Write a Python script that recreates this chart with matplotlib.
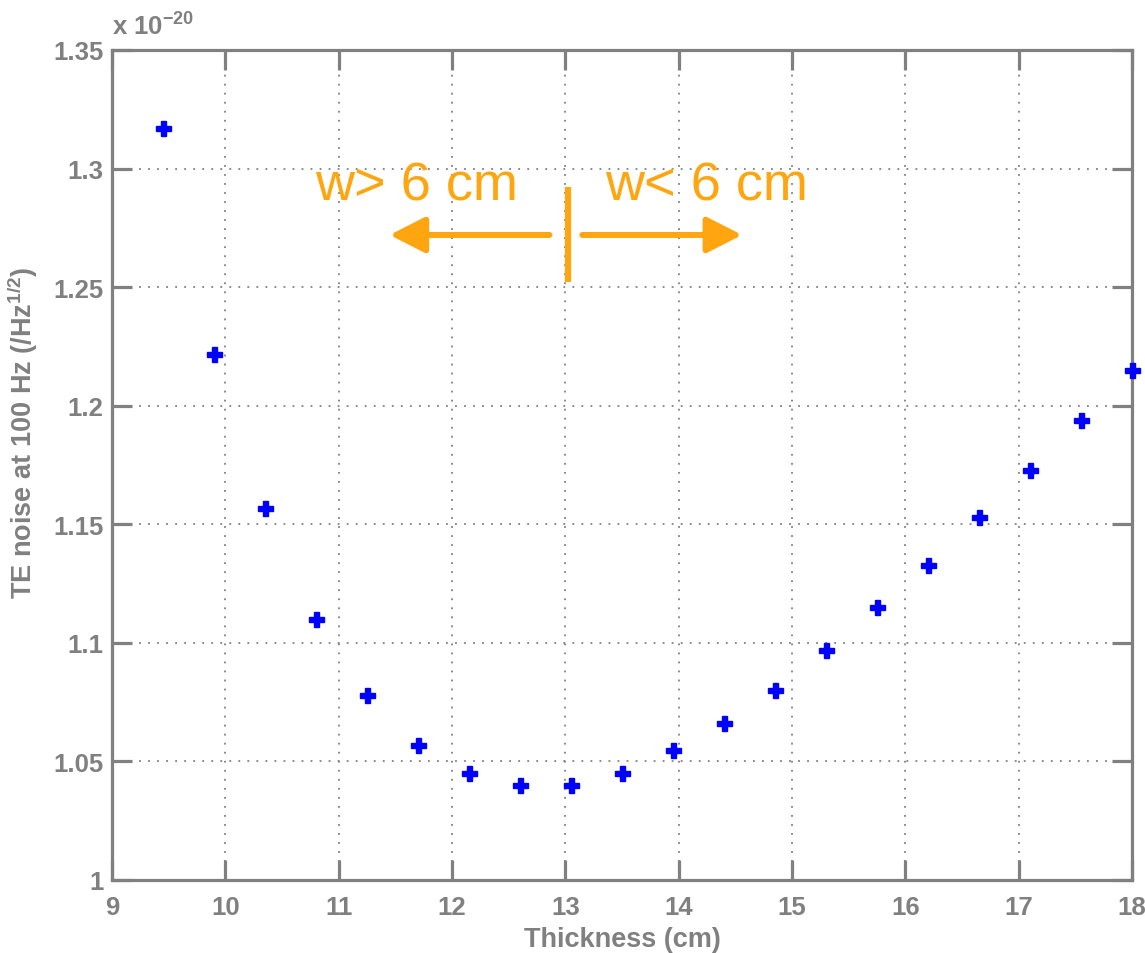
import matplotlib
matplotlib.use("Agg")
import matplotlib.pyplot as plt
import numpy as np

# ---- data (noise in units of 1e-20 /sqrt(Hz)) ----
thickness_cm = [9.45, 9.90, 10.35, 10.80, 11.25, 11.70, 12.15, 12.60, 13.05, 13.50,
                13.95, 14.40, 14.85, 15.30, 15.75, 16.20, 16.65, 17.10, 17.55, 18.00]
te_noise = [1.317, 1.222, 1.157, 1.110, 1.078, 1.057, 1.045, 1.040, 1.040, 1.045,
            1.055, 1.066, 1.080, 1.097, 1.115, 1.133, 1.153, 1.173, 1.194, 1.215]
x_ticks = [9, 10, 11, 12, 13, 14, 15, 16, 17, 18]
y_ticks = [1.0, 1.05, 1.1, 1.15, 1.2, 1.25, 1.3, 1.35]
y_ticklabels = ["1", "1.05", "1.1", "1.15", "1.2", "1.25", "1.3", "1.35"]
label_left = "w> 6 cm"
label_right = "w< 6 cm"

plt.rcParams['font.family'] = ['Liberation Sans', 'DejaVu Sans']
plt.rcParams['mathtext.fontset'] = 'custom'
plt.rcParams['mathtext.rm'] = 'Liberation Sans:bold'
plt.rcParams['mathtext.it'] = 'Liberation Sans:bold'
plt.rcParams['mathtext.bf'] = 'Liberation Sans:bold'

GRAY = '#808080'
ORANGE = '#FFA510'

fig = plt.figure(figsize=(11.45, 9.54), dpi=100)
ax = fig.add_axes([112/1145, 1-881/954, (1132-112)/1145, (881-51)/954])

ax.plot(thickness_cm, te_noise, linestyle='none', marker='P', markersize=10.8,
        color='#0000ff', markeredgecolor='#0000ff', markeredgewidth=1.0, zorder=5,
        clip_on=False)

ax.set_xlim(9, 18)
ax.set_ylim(1.0, 1.35)
ax.set_xticks(x_ticks)
ax.set_yticks(y_ticks)
ax.set_yticklabels(y_ticklabels)

for s in ax.spines.values():
    s.set_color(GRAY)
    s.set_linewidth(2.3)

ax.tick_params(axis='both', which='major', direction='in', length=14.5, width=2.3,
               color=GRAY, labelcolor=GRAY, labelsize=18.5,
               top=True, right=True)
for lbl in ax.get_xticklabels() + ax.get_yticklabels():
    lbl.set_fontweight('bold')
ax.tick_params(axis='x', pad=11)
ax.tick_params(axis='y', pad=6)

ax.grid(True, color=GRAY, linestyle=(0, (1, 4)), linewidth=1.3)
ax.set_axisbelow(True)

ax.set_xlabel("Thickness (cm)", fontsize=19.5, color=GRAY, fontweight='bold')
ax.set_ylabel(r"TE noise at 100 Hz (/Hz$^{\mathregular{1/2}}$)", fontsize=19.5,
              color=GRAY, fontweight='bold')
ax.xaxis.set_label_coords(0.5, -0.055)
ax.yaxis.set_label_coords(-0.071, 0.54)

# multiplier text
ax.text(0.0, 1.012, r"x 10$^{\mathregular{-20}}$", transform=ax.transAxes,
        fontsize=18.5, color=GRAY, ha='left', va='bottom', fontweight='bold')

# annotations
ax.text(10.79, 1.2871, label_left, fontsize=39, color=ORANGE, ha='left', va='baseline')
ax.text(13.35, 1.2871, label_right, fontsize=39, color=ORANGE, ha='left', va='baseline')
ax.plot([13.02, 13.02], [1.2521, 1.2922], color=ORANGE, linewidth=4.5, solid_capstyle='butt')
arrow_style = '-|>,head_length=21.6,head_width=11'
ax.annotate('', xy=(11.45, 1.272), xytext=(12.86, 1.272),
            arrowprops=dict(arrowstyle=arrow_style, mutation_scale=1, color=ORANGE,
                            linewidth=4.3, shrinkA=0, shrinkB=0))
ax.annotate('', xy=(14.56, 1.272), xytext=(13.15, 1.272),
            arrowprops=dict(arrowstyle=arrow_style, mutation_scale=1, color=ORANGE,
                            linewidth=4.3, shrinkA=0, shrinkB=0))

fig.savefig('out.png', dpi=100)
